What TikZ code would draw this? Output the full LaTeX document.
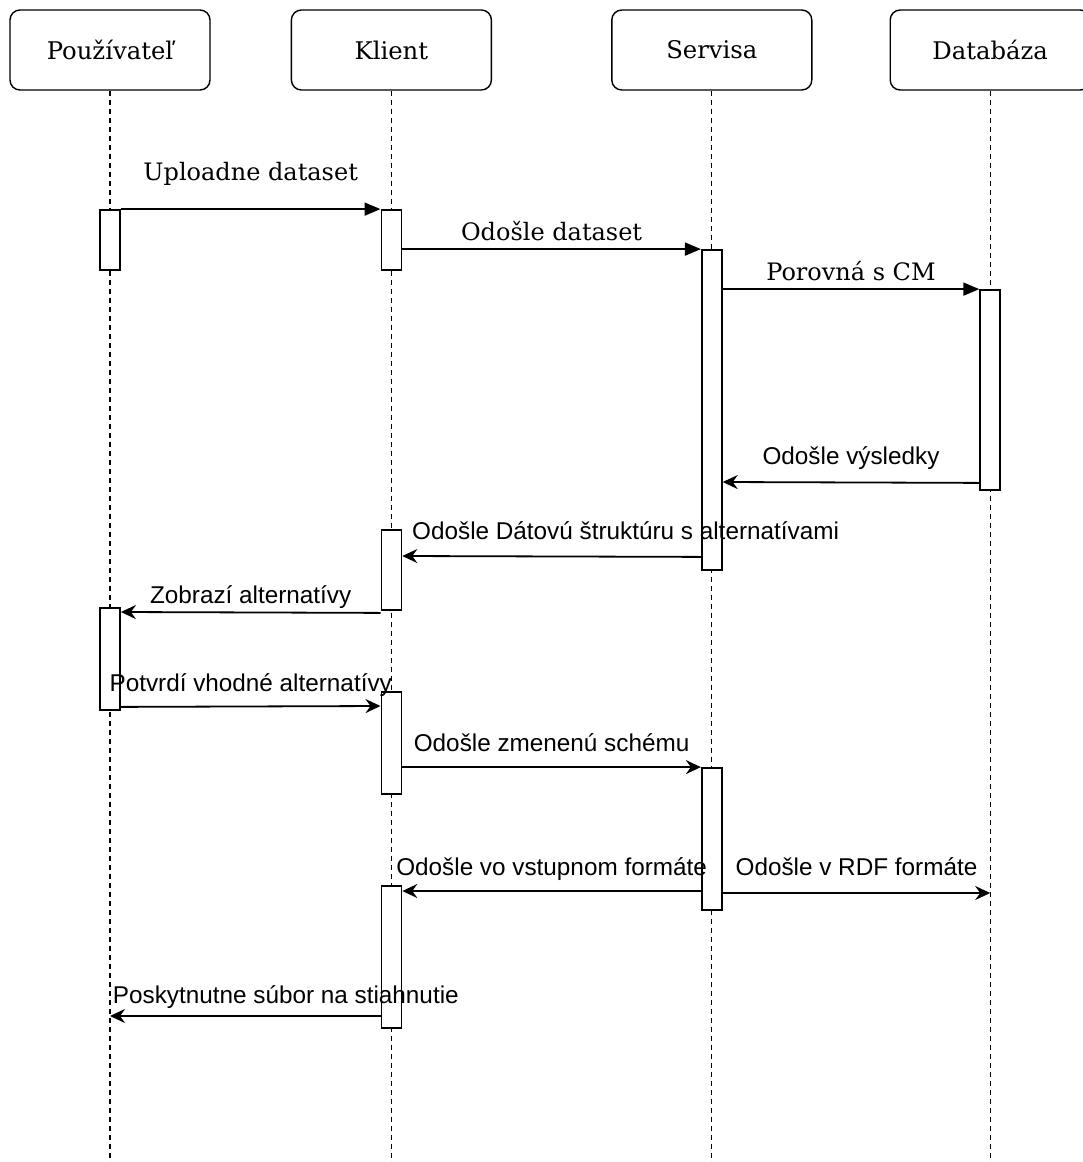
\documentclass[tikz,border=0pt]{standalone}
\usepackage{fontspec}
\setmainfont{DejaVu Serif}
\setsansfont{Liberation Sans}
\usetikzlibrary{arrows.meta, positioning}

\begin{document}
\begin{tikzpicture}[x=1pt,y=-1pt,node distance=80pt,line width=1.8pt]
	
	\tikzset{actor/.style={rectangle, rounded corners=10pt, draw,
			line width=1.4pt, minimum width=200pt, minimum height=80pt,
			font=\fontsize{24.3}{28}\selectfont}}
	\tikzset{act/.style={rectangle, draw, fill=white,
			line width=1.8pt, minimum width=20pt}}
	\tikzset{life/.style={line width=1.3pt, dash pattern=on 5pt off 4pt}}
	\tikzset{call/.style={-{Triangle[length=16pt,width=13pt]}}}
	\tikzset{reply/.style={-{Stealth[length=15pt,width=14pt,inset=5pt]}}}
	\tikzset{call lbl/.style={inner sep=0pt, anchor=base,
			font=\fontsize{24}{28}\selectfont}}
	\tikzset{reply lbl/.style={inner sep=0pt, anchor=base,
			font=\sffamily\fontsize{24.3}{29}\selectfont}}
	
	\useasboundingbox (0,0) rectangle (1082,1162);
	
	\node[actor] (P) at (110,50) {Používateľ};
	\node[actor, right=of P] (K) {Klient};
	\node[actor, right=119pt of K] (S) {Servisa};
	\node[actor, right=77pt of S] (D) {Databáza};
	
	\foreach \a in {P,K,S,D}
		\draw[life] (\a.south) -- (\a |- 0,1162);
	
	\node[act, minimum height=60pt] (pa1) at (P |- 0,240) {};
	\node[act, minimum height=60pt] (ka1) at (K |- 0,240) {};
	\node[act, minimum height=320pt] (sa1) at (S |- 0,410) {};
	\node[act, minimum height=200pt] (da1) at (D |- 0,390) {};
	\node[act, minimum height=80pt] (ka2) at (K |- 0,570) {};
	\node[act, minimum height=102pt] (pa2) at (P |- 0,659) {};
	\node[act, minimum height=102pt] (ka3) at (K |- 0,743) {};
	\node[act, minimum height=142pt] (sa2) at (S |- 0,839) {};
	\node[act, minimum height=142pt] (ka4) at (K |- 0,957) {};
	
	\coordinate (rdf) at (D |- 0,893);
	\coordinate (dl) at (P |- 0,1016);
	
	\draw[call] (pa1.north east) -- node[call lbl, yshift=29pt] {Uploadne dataset} (ka1.north west);
	\draw[call] (ka1.east |- sa1.north) -- node[call lbl, yshift=9pt] {Odošle dataset} (sa1.north west);
	\draw[call] (sa1.east |- da1.north) -- node[call lbl, yshift=9pt] {Porovná s CM} (da1.north west);
	\draw[reply] ([yshift=8pt]da1.south west) -- node[reply lbl, yshift=18pt] {Odošle výsledky} (sa1.east |- 0,482);
	\draw[reply] ([yshift=14pt]sa1.south west) -- node[reply lbl, pos=1, anchor=base west, xshift=9pt, yshift=17pt] {Odošle Dátovú štruktúru s alternatívami} (ka2.east |- 0,556);
	\draw[reply] ([yshift=-2pt]ka2.south west) -- node[reply lbl, yshift=9pt] {Zobrazí alternatívy} (pa2.east |- 0,612);
	\draw[reply] ([yshift=4pt]pa2.south east) -- node[reply lbl, yshift=15pt] {Potvrdí vhodné alternatívy} (ka3.west |- 0,706);
	\draw[reply] (ka3.east |- sa2.north) -- node[reply lbl, yshift=16pt] {Odošle zmenenú schému} (sa2.north west);
	\draw[reply] (sa2.west |- 0,891) -- node[reply lbl, yshift=16pt] {Odošle vo vstupnom formáte} (ka4.east |- 0,891);
	\draw[reply] (sa2.east |- rdf) -- node[reply lbl, yshift=18pt] {Odošle v RDF formáte} (rdf);
	\draw[reply] (ka4.west |- dl) -- node[reply lbl, pos=1, anchor=base west, xshift=2pt, yshift=13pt] {Poskytnutne súbor na stiahnutie} (dl);
	
\end{tikzpicture}
\end{document}
